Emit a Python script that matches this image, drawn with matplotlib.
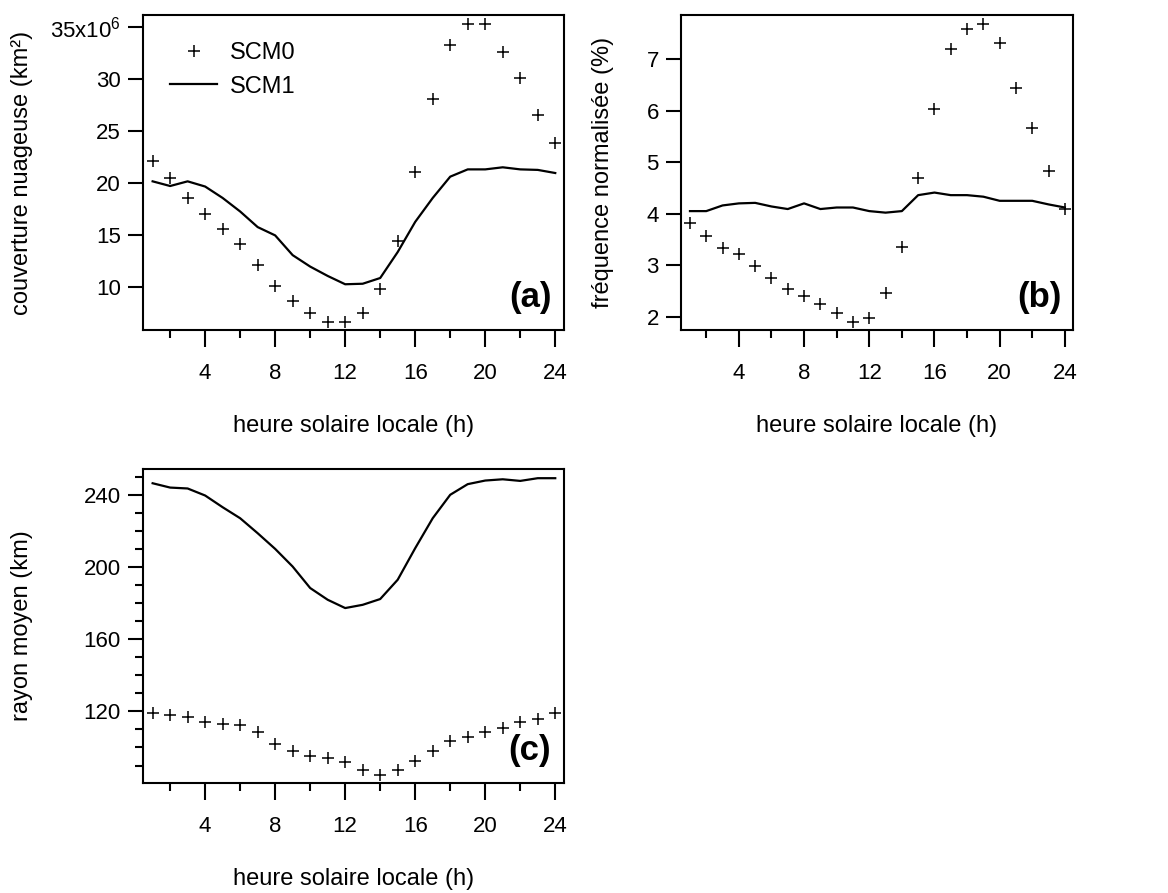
import matplotlib
matplotlib.use('Agg')
import matplotlib.pyplot as plt
from matplotlib.ticker import MultipleLocator, FuncFormatter

# heures solaires locales
heures = list(range(1, 25))

# (a) couverture nuageuse (x10^6 km2)
couv_scm0 = [22.2, 20.5, 18.6, 17.1, 15.6, 14.2, 12.2, 10.1, 8.65, 7.5, 6.65, 6.65,
             7.55, 9.85, 14.5, 21.1, 28.1, 33.3, 35.3, 35.3, 32.6, 30.1, 26.6, 23.9]
couv_scm1 = [20.2, 19.75, 20.2, 19.7, 18.6, 17.3, 15.8, 15.0, 13.1, 12.0, 11.1, 10.3,
             10.35, 10.9, 13.4, 16.3, 18.6, 20.65, 21.35, 21.35, 21.55, 21.35, 21.3, 21.0]

# (b) frequence normalisee (%)
freq_scm0 = [3.81, 3.57, 3.33, 3.22, 2.99, 2.76, 2.53, 2.40, 2.24, 2.07, 1.90, 1.98,
             2.45, 3.36, 4.69, 6.03, 7.19, 7.58, 7.68, 7.31, 6.45, 5.66, 4.82, 4.10]
freq_scm1 = [4.05, 4.05, 4.16, 4.20, 4.21, 4.14, 4.09, 4.20, 4.09, 4.12, 4.12, 4.05,
             4.02, 4.05, 4.36, 4.41, 4.36, 4.36, 4.33, 4.25, 4.25, 4.25, 4.18, 4.12]

# (c) rayon moyen (km)
rayon_scm0 = [119.1, 118.2, 116.7, 113.9, 113.2, 112.6, 108.6, 102.1, 98.2, 95.1, 94.0, 92.0,
              87.7, 84.9, 87.3, 92.7, 97.8, 103.4, 105.6, 108.4, 110.8, 113.9, 115.8, 119.1]
rayon_scm1 = [246.5, 244.1, 243.6, 239.7, 233.2, 227.1, 218.8, 210.1, 200.3, 188.4, 181.9, 177.3,
              179.1, 182.3, 193.0, 210.5, 227.1, 240.1, 246.0, 248.0, 248.7, 247.8, 249.3, 249.3]

plt.rcParams['font.family'] = ['Liberation Sans', 'DejaVu Sans']
plt.rcParams['mathtext.fontset'] = 'custom'
plt.rcParams['mathtext.rm'] = 'Liberation Sans'
plt.rcParams['mathtext.it'] = 'Liberation Sans'

W, H = 1168, 893
fig = plt.figure(figsize=(W / 100, H / 100), dpi=100)


def axes_px(left, top, right, bottom):
    # position en pixels -> fraction de figure
    return fig.add_axes([left / W, 1 - bottom / H, (right - left) / W, (bottom - top) / H])


def style(ax, lettre, ylabel, ylab_x):
    ax.set_xlim(0.45, 24.5)
    ax.xaxis.set_major_locator(MultipleLocator(4))
    ax.xaxis.set_minor_locator(MultipleLocator(2))
    ax.tick_params(axis='x', which='major', direction='out', length=12, width=1.5,
                   pad=12, labelsize=16)
    ax.tick_params(axis='x', which='minor', direction='out', length=6, width=1.5)
    ax.tick_params(axis='y', which='major', direction='out', length=11, width=1.5,
                   pad=5, labelsize=16)
    ax.tick_params(axis='y', which='minor', direction='out', length=6, width=1.5)
    for s in ax.spines.values():
        s.set_linewidth(1.5)
    ax.set_xlabel('heure solaire locale (h)', fontsize=17)
    ax.xaxis.set_label_coords(0.5, -0.27)
    ax.set_ylabel(ylabel, fontsize=17)
    ax.yaxis.set_label_coords(ylab_x, 0.5)
    ax.text(0.97, 0.05, lettre, transform=ax.transAxes, ha='right', va='bottom',
            fontsize=25, fontweight='bold')


pkw = dict(linestyle='none', marker='+', markersize=9, markeredgewidth=1.1, color='black')
lkw = dict(color='black', linewidth=1.6)

# (a)
ax1 = axes_px(143, 15, 564, 330)
p0, = ax1.plot(heures, couv_scm0, label='SCM0', **pkw)
l1, = ax1.plot(heures, couv_scm1, label='SCM1', **lkw)
ax1.set_ylim(5.9, 36.2)
ax1.set_yticks([10, 15, 20, 25, 30, 35])
ax1.yaxis.set_major_formatter(FuncFormatter(
    lambda v, pos: r'35x10$^{6}$' if v >= 35 else '%d' % v))
style(ax1, '(a)', 'couverture nuageuse (km²)', -0.262)
ax1.legend(handles=[p0, l1], loc='upper left', bbox_to_anchor=(0.064, 0.915),
           frameon=False, fontsize=17, borderpad=0, borderaxespad=0,
           handlelength=2, handletextpad=0.55, labelspacing=0.5)

# (b)
ax2 = axes_px(681, 15, 1073, 330)
ax2.plot(heures, freq_scm0, **pkw)
ax2.plot(heures, freq_scm1, **lkw)
ax2.set_ylim(1.74, 7.86)
ax2.set_yticks([2, 3, 4, 5, 6, 7])
style(ax2, '(b)', 'fréquence normalisée (%)', -0.172)

# (c)
ax3 = axes_px(143, 469, 564, 783)
ax3.plot(heures, rayon_scm0, **pkw)
ax3.plot(heures, rayon_scm1, **lkw)
ax3.set_ylim(80.3, 254.4)
ax3.set_yticks([120, 160, 200, 240])
ax3.yaxis.set_minor_locator(MultipleLocator(10))
style(ax3, '(c)', 'rayon moyen (km)', -0.262)

plt.savefig('out.png', dpi=100)
